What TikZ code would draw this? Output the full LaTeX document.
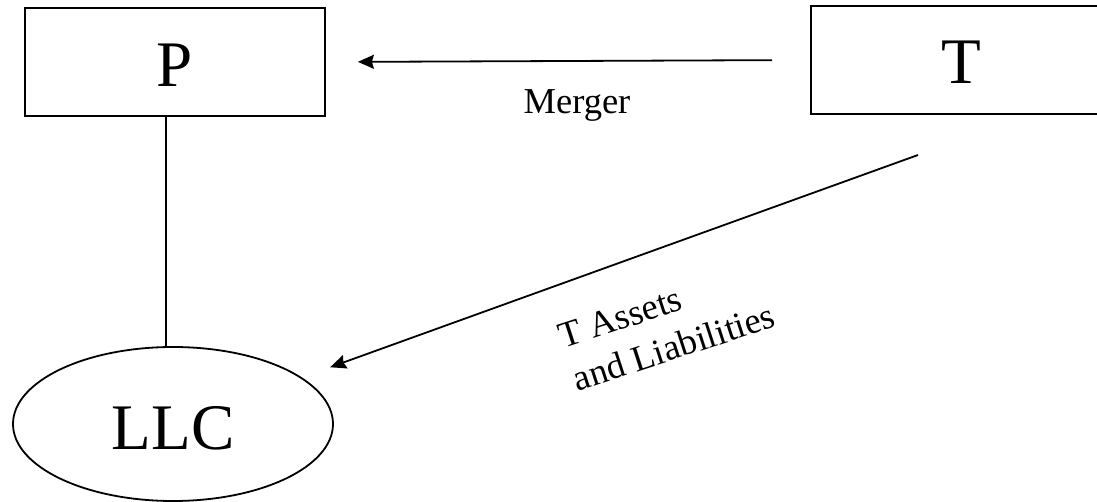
\documentclass[tikz,border=0pt]{standalone}
\usepackage{fontspec}
\setmainfont{Liberation Serif}
\usetikzlibrary{shapes.geometric,arrows.meta}
\begin{document}
\begin{tikzpicture}[x=1pt,y=-1pt,
  bigfont/.style={font=\fontsize{65}{78}\selectfont},
  smallfont/.style={font=\fontsize{36.5}{45}\selectfont},
  entitybox/.style={draw,line width=1.8pt,minimum width=300pt,minimum height=108pt,inner sep=0pt,bigfont},
  llcshape/.style={draw,ellipse,line width=1.8pt,minimum width=320pt,minimum height=154pt,inner sep=0pt,bigfont},
  conn/.style={line width=1.8pt},
  arr/.style={conn,-{Stealth[length=16pt,width=14pt,inset=2pt]}},
  lbl/.style={inner sep=0pt,smallfont}
]
\useasboundingbox (0,0) rectangle (1097,502);
\clip (0,0) rectangle (1097,502);
\node[entitybox,text height=49pt] (P) at (175,62) {P};
\node[entitybox,text height=47pt] (T) at (961,60) {T};
\node[llcshape,text height=51pt] (LLC) at (173,424) {LLC};
\draw[arr,shorten <=38pt,shorten >=32pt] (T.west) -- (P.east);
\node[lbl] (merger) at (577,105) {Merger};
\coordinate (vx) at (166,0);
\draw[conn] (P.south -| vx) -- (vx |- LLC.north);
\coordinate (d1) at (918,155);
\draw[arr,shorten >=30pt] (d1) -- (LLC);
\node[lbl,align=left,rotate=18] (assets) at (667,326) {T Assets\\and Liabilities};
\end{tikzpicture}
\end{document}
